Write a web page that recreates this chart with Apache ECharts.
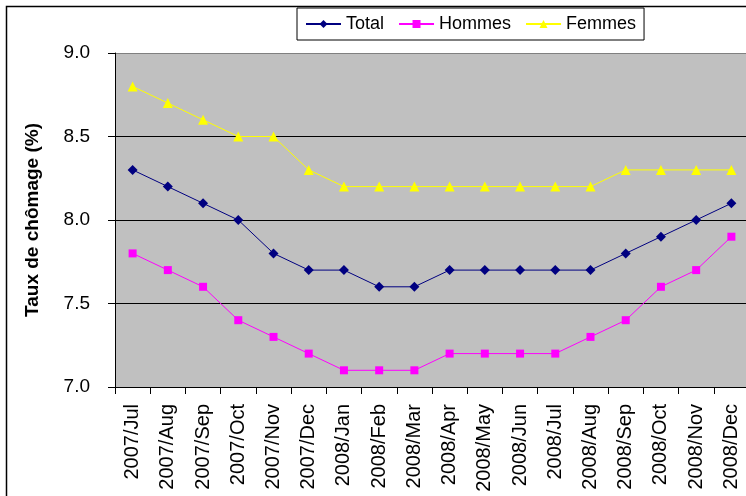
<!DOCTYPE html>
<html>
<head>
<meta charset="utf-8">
<script src="https://cdn.jsdelivr.net/npm/echarts@6/dist/echarts.min.js"></script>
<style>
  html, body { margin: 0; padding: 0; background: #fff; }
  #chart { width: 746px; height: 496px; }
</style>
</head>
<body>
<div id="chart"></div>
<script>
// mois
const months = ['2007/Jul', '2007/Aug', '2007/Sep', '2007/Oct', '2007/Nov', '2007/Dec',
  '2008/Jan', '2008/Feb', '2008/Mar', '2008/Apr', '2008/May', '2008/Jun',
  '2008/Jul', '2008/Aug', '2008/Sep', '2008/Oct', '2008/Nov', '2008/Dec']
const total = [8.3, 8.2, 8.1, 8.0, 7.8, 7.7, 7.7, 7.6, 7.6, 7.7, 7.7, 7.7, 7.7, 7.7, 7.8, 7.9, 8.0, 8.1]
const hommes = [7.8, 7.7, 7.6, 7.4, 7.3, 7.2, 7.1, 7.1, 7.1, 7.2, 7.2, 7.2, 7.2, 7.3, 7.4, 7.6, 7.7, 7.9]
const femmes = [8.8, 8.7, 8.6, 8.5, 8.5, 8.3, 8.2, 8.2, 8.2, 8.2, 8.2, 8.2, 8.2, 8.2, 8.3, 8.3, 8.3, 8.3]

const font = 'Liberation Sans, Arial, sans-serif'
let myChart = echarts.init(document.getElementById('chart'))
myChart.setOption({
  animation: false,
  backgroundColor: '#fff',
  textStyle: { fontFamily: font, color: '#000' },
  graphic: [{
    type: 'rect',
    shape: { x: 6.5, y: 6.5, width: 1000, height: 1000 },
    style: { fill: 'none', stroke: '#000', lineWidth: 1.5 },
    z: -1
  }],
  legend: {
    data: ['Total', 'Hommes', 'Femmes'],
    left: 297,
    top: 8,
    padding: [7, 8, 7, 8],
    itemGap: 14,
    itemWidth: 35,
    itemHeight: 10,
    backgroundColor: '#fff',
    borderColor: '#000',
    borderWidth: 1,
    borderRadius: 0,
    textStyle: { fontSize: 18, color: '#000', fontFamily: font }
  },
  grid: {
    left: 115,
    top: 53,
    right: -3,
    bottom: 109,
    show: true,
    backgroundColor: '#c0c0c0',
    borderWidth: 0,
    outerBoundsMode: 'none'
  },
  xAxis: {
    type: 'category',
    data: months,
    boundaryGap: true,
    axisLine: { lineStyle: { color: '#000', width: 1 } },
    axisTick: { show: true, length: 7, lineStyle: { color: '#000' } },
    axisLabel: { rotate: 90, fontSize: 20, margin: 17, color: '#000', interval: 0 }
  },
  yAxis: {
    type: 'value',
    min: 7,
    max: 9,
    interval: 0.5,
    name: 'Taux de chômage (%)',
    nameLocation: 'middle',
    nameGap: 73,
    nameTextStyle: { fontSize: 19, fontWeight: 'bold', color: '#000' },
    axisLine: { show: true, lineStyle: { color: '#000', width: 1 } },
    axisTick: { show: true, length: 7, lineStyle: { color: '#000' } },
    axisLabel: { fontSize: 19, margin: 25, color: '#000', formatter: v => v.toFixed(1) },
    splitLine: { show: true, lineStyle: { color: ['#000', '#000', '#000', '#000', '#808080'], width: 1 } }
  },
  series: [
    {
      name: 'Total',
      type: 'line',
      data: total,
      symbol: 'diamond',
      symbolSize: 10,
      lineStyle: { color: '#000080', width: 1 },
      itemStyle: { color: '#000080' }
    },
    {
      name: 'Hommes',
      type: 'line',
      data: hommes,
      symbol: 'rect',
      symbolSize: 8,
      lineStyle: { color: '#ff00ff', width: 1 },
      itemStyle: { color: '#ff00ff' }
    },
    {
      name: 'Femmes',
      type: 'line',
      data: femmes,
      symbol: 'triangle',
      symbolSize: 10,
      lineStyle: { color: '#ffff00', width: 1 },
      itemStyle: { color: '#ffff00' }
    }
  ]
})
window.onresize = myChart.resize
</script>
</body>
</html>
